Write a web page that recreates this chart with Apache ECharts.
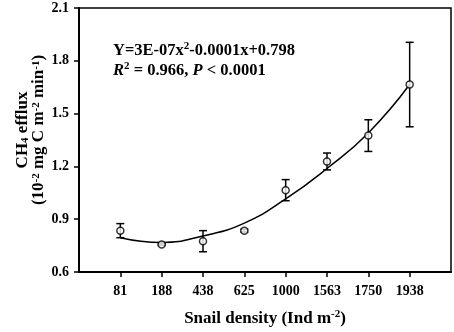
<!DOCTYPE html>
<html>
<head>
<meta charset="utf-8">
<script src="https://cdn.jsdelivr.net/npm/echarts@6/dist/echarts.min.js"></script>
<style>
  html, body { margin: 0; padding: 0; background: #fff; }
  #chart { width: 454px; height: 332px; }
</style>
</head>
<body>
<div id="chart"></div>
<script>
  // snail density categories (Ind m-2)
  var densities = ['81', '188', '438', '625', '1000', '1563', '1750', '1938'];
  // CH4 efflux means and standard errors
  var effluxMean = [0.835, 0.756, 0.775, 0.835, 1.065, 1.228, 1.375, 1.665];
  var effluxErr = [0.04, 0.005, 0.06, 0.008, 0.06, 0.048, 0.09, 0.24];
  // fitted curve read at each density
  var trendVals = [0.795, 0.768, 0.805, 0.878, 1.015, 1.188, 1.39, 1.665];

  var FONT = '"Liberation Serif", "Times New Roman", serif';

  var chart = echarts.init(document.getElementById('chart'));

  var points = effluxMean.map(function (v, i) { return [i + 1, v]; });
  var bars = effluxMean.map(function (v, i) { return [i + 1, v - effluxErr[i], v + effluxErr[i]]; });
  var trend = trendVals.map(function (v, i) { return [i + 1, v]; });

  var option = {
    animation: false,
    grid: {
      left: 79, top: 8, right: 3, bottom: 55,
      show: true,
      borderColor: '#000',
      borderWidth: 1.5
    },
    xAxis: {
      type: 'value',
      min: 0,
      max: 9,
      interval: 1,
      name: 'Snail density (Ind m{sup|-2})',
      nameLocation: 'middle',
      nameGap: 37,
      nameTextStyle: {
        fontFamily: FONT, fontSize: 17, fontWeight: 'bold', color: '#000',
        rich: {
          sup: { fontFamily: FONT, fontSize: 11, fontWeight: 'bold', color: '#000', verticalAlign: 'top', padding: [0, 0, 8, 0] }
        }
      },
      axisLine: { lineStyle: { color: '#000', width: 2 } },
      axisTick: { inside: false, length: 5, lineStyle: { color: '#000', width: 1.5 }, customValues: [1, 2, 3, 4, 5, 6, 7, 8] },
      splitLine: { show: false },
      axisLabel: {
        margin: 12,
        fontFamily: FONT, fontSize: 14, fontWeight: 'bold', color: '#000',
        customValues: [1, 2, 3, 4, 5, 6, 7, 8],
        formatter: function (v) { return densities[v - 1] || ''; }
      }
    },
    yAxis: {
      type: 'value',
      min: 0.6,
      max: 2.1,
      interval: 0.3,
      axisLine: { show: true, lineStyle: { color: '#000', width: 2 } },
      axisTick: { show: true, length: 5, lineStyle: { color: '#000', width: 1.5 } },
      splitLine: { show: false },
      axisLabel: {
        margin: 10,
        fontFamily: FONT, fontSize: 14, fontWeight: 'bold', color: '#000',
        formatter: function (v) { return v.toFixed(1); }
      }
    },
    graphic: [
      {
        type: 'text',
        left: 113,
        top: 41,
        style: {
          text: 'Y=3E-07x{sup|2}-0.0001x+0.798\n{i|R}{sup|2} = 0.966, {i|P} < 0.0001',
          fontFamily: FONT, fontSize: 16.5, fontWeight: 'bold', fill: '#000',
          lineHeight: 20,
          rich: {
            sup: { fontFamily: FONT, fontSize: 11, fontWeight: 'bold', fill: '#000', verticalAlign: 'top', lineHeight: 20 },
            i: { fontFamily: FONT, fontSize: 16.5, fontWeight: 'bold', fontStyle: 'italic', fill: '#000', lineHeight: 20 }
          }
        }
      },
      {
        type: 'text',
        x: 31,
        y: 130,
        rotation: Math.PI / 2,
        style: {
          text: 'CH{sub|4} efflux\n(10{sup|-2} mg C m{sup|-2} min{sup|-1})',
          align: 'center',
          verticalAlign: 'middle',
          fontFamily: FONT, fontSize: 17, fontWeight: 'bold', fill: '#000',
          lineHeight: 16,
          rich: {
            sup: { fontFamily: FONT, fontSize: 11, fontWeight: 'bold', fill: '#000', verticalAlign: 'top', lineHeight: 16 },
            sub: { fontFamily: FONT, fontSize: 11, fontWeight: 'bold', fill: '#000', verticalAlign: 'bottom', lineHeight: 16 }
          }
        }
      }
    ],
    series: [
      {
        name: 'trend',
        type: 'line',
        data: trend,
        smooth: 0.5,
        symbol: 'none',
        lineStyle: { color: '#000', width: 1.5 },
        z: 2
      },
      {
        name: 'error',
        type: 'custom',
        data: bars,
        renderItem: function (params, api) {
          var x = api.value(0);
          var lo = api.coord([x, api.value(1)]);
          var hi = api.coord([x, api.value(2)]);
          var cap = 4;
          var st = { stroke: '#000', lineWidth: 1.5 };
          return {
            type: 'group',
            children: [
              { type: 'line', shape: { x1: lo[0], y1: lo[1], x2: hi[0], y2: hi[1] }, style: st },
              { type: 'line', shape: { x1: lo[0] - cap, y1: lo[1], x2: lo[0] + cap, y2: lo[1] }, style: st },
              { type: 'line', shape: { x1: hi[0] - cap, y1: hi[1], x2: hi[0] + cap, y2: hi[1] }, style: st }
            ]
          };
        },
        z: 3
      },
      {
        name: 'efflux',
        type: 'scatter',
        data: points,
        symbol: 'circle',
        symbolSize: 7,
        itemStyle: { color: '#fff', borderColor: '#000', borderWidth: 1.5 },
        z: 4
      }
    ]
  };

  chart.setOption(option);
</script>
</body>
</html>
